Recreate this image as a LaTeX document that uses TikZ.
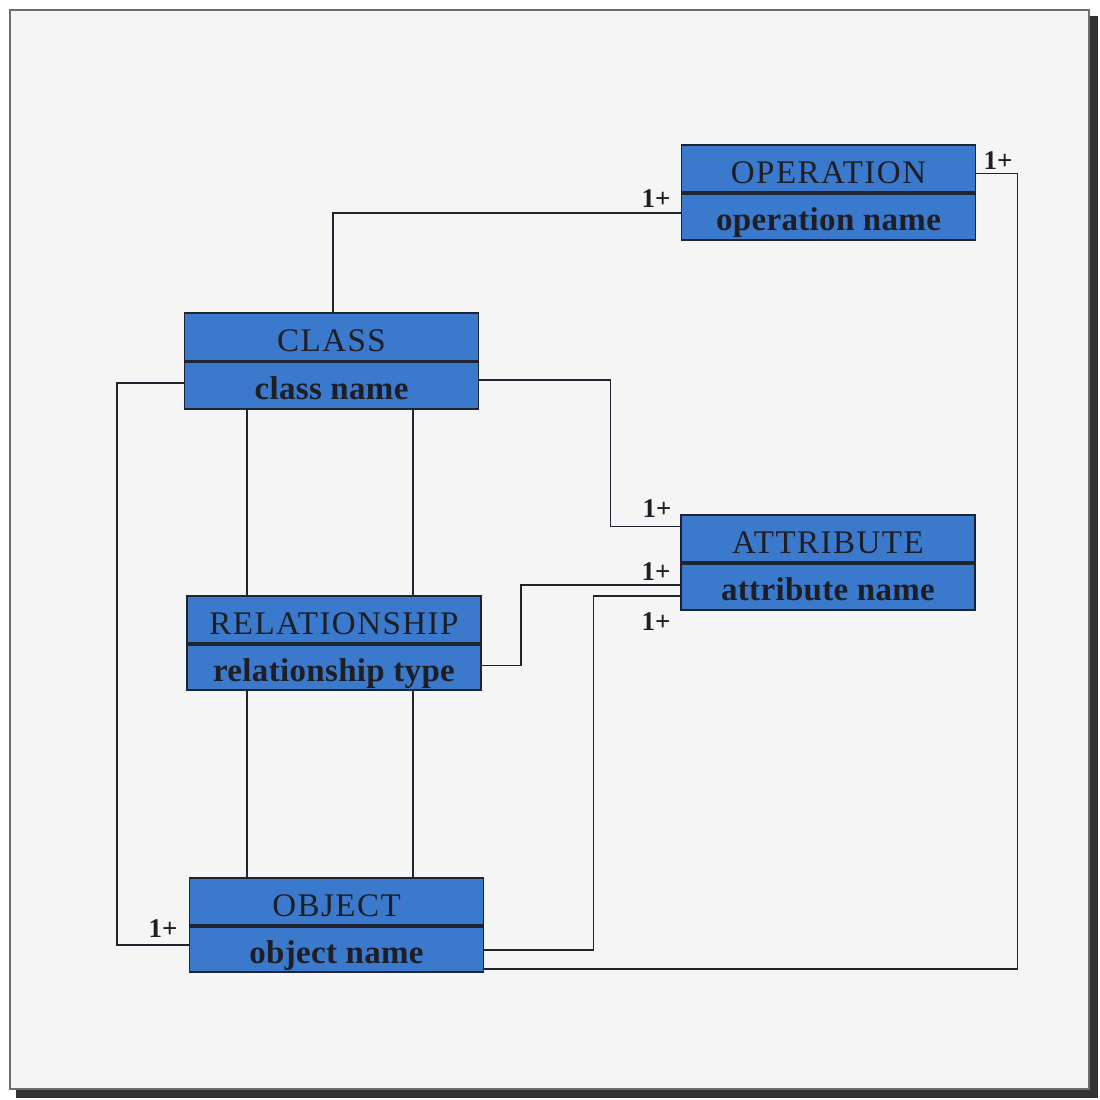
\documentclass[tikz,border=0pt]{standalone}
\usepackage{fontspec}
\setmainfont{Liberation Serif}
\usetikzlibrary{calc}
\definecolor{entblue}{RGB}{58,121,204}
\definecolor{entline}{RGB}{30,36,48}
\definecolor{inktext}{RGB}{30,30,36}
\definecolor{pagebg}{RGB}{245,245,245}
\definecolor{framegray}{RGB}{110,110,110}
\definecolor{shadowgray}{RGB}{50,50,50}
\tikzset{
  enthead/.style={draw=entline, line width=1.6pt, fill=entblue, minimum width=294pt,
    minimum height=47.5pt, inner sep=0pt, text height=29pt, text depth=0pt, text=inktext,
    font=\fontsize{33}{36}\selectfont\addfontfeature{LetterSpace=4.5}},
  entbody/.style={enthead,
    font=\fontsize{33}{36}\selectfont\bfseries\addfontfeature{LetterSpace=1}},
  divider/.style={draw=entline, line width=3.5pt},
  link/.style={draw=entline, line width=1.6pt},
  mult/.style={inner sep=0pt, text=inktext, font=\fontsize{27}{30}\selectfont\bfseries}
}
\begin{document}
\begin{tikzpicture}[x=1pt,y=-1pt]
  % page, frame and drop shadow
  \useasboundingbox (0,0) rectangle (1100,1100);
  \fill[white] (0,0) rectangle (1100,1100);
  \fill[shadowgray] (16,1088) rectangle (1098,1098);
  \fill[shadowgray] (1088,16) rectangle (1098,1098);
  \filldraw[fill=pagebg, draw=framegray, line width=2.5pt] (10,10) rectangle (1089,1089);

  % entities: header part and attribute part
  \node[enthead] (oph) at (828.5,168.5) {OPERATION};
  \node[entbody] (opb) at (828.5,216)   {operation name};
  \node[enthead] (clh) at (331.5,337)   {CLASS};
  \node[entbody] (clb) at (331.5,385)   {class name};
  \node[enthead] (ath) at (828,538.5)   {ATTRIBUTE};
  \node[entbody] (atb) at (828,586)     {attribute name};
  \node[enthead] (relh) at (334,619.5)  {RELATIONSHIP};
  \node[entbody] (relb) at (334,666.5)  {relationship type};
  \node[enthead] (obh) at (336.5,901.5) {OBJECT};
  \node[entbody] (obb) at (336.5,948.5) {object name};

  \foreach \e in {op,cl,at,rel,ob}{
    \draw[divider] (\e h.south west) -- (\e h.south east);
  }

  % CLASS -- OPERATION
  \draw[link] ($(clh.north)+(1.5,0)$) |- ($(opb.west)+(0,-3)$);
  \node[mult] (m1) at (656,199) {1+};

  % OPERATION -- OBJECT
  \draw[link] ($(oph.east)+(0,5)$) -- ($(oph.east)+(41,5)$)
    |- ($(obb.south east)+(0,-4)$);
  \node[mult] (m2) at (998,161) {1+};

  % CLASS -- ATTRIBUTE
  \draw[link] ($(clb.east)+(0,-5)$) -- ($(clb.east)+(131,-5)$)
    |- ($(ath.west)+(0,-12)$);
  \node[mult] (m3) at (657,509) {1+};

  % RELATIONSHIP -- ATTRIBUTE
  \draw[link] ($(relb.east)+(0,-1)$) -- ($(relb.east)+(39,-1)$)
    |- ($(atb.west)+(0,-1)$);
  \node[mult] (m4) at (656,572) {1+};

  % OBJECT -- ATTRIBUTE
  \draw[link] ($(obb.east)+(0,1.5)$) -- ($(obb.east)+(109,1.5)$)
    |- ($(atb.west)+(0,10)$);
  \node[mult] (m5) at (656,622) {1+};

  % CLASS -- OBJECT
  \draw[link] ($(clb.west)+(0,-2)$) -- ($(clb.west)+(-67,-2)$)
    |- ($(obb.west)+(0,-3.5)$);
  \node[mult] (m6) at (163,929) {1+};

  % CLASS -- RELATIONSHIP -- OBJECT
  \draw[link] (clb.south -| 247,0) -- (relh.north -| 247,0);
  \draw[link] (clb.south -| 413,0) -- (relh.north -| 413,0);
  \draw[link] (relb.south -| 247,0) -- (obh.north -| 247,0);
  \draw[link] (relb.south -| 413,0) -- (obh.north -| 413,0);
\end{tikzpicture}
\end{document}
